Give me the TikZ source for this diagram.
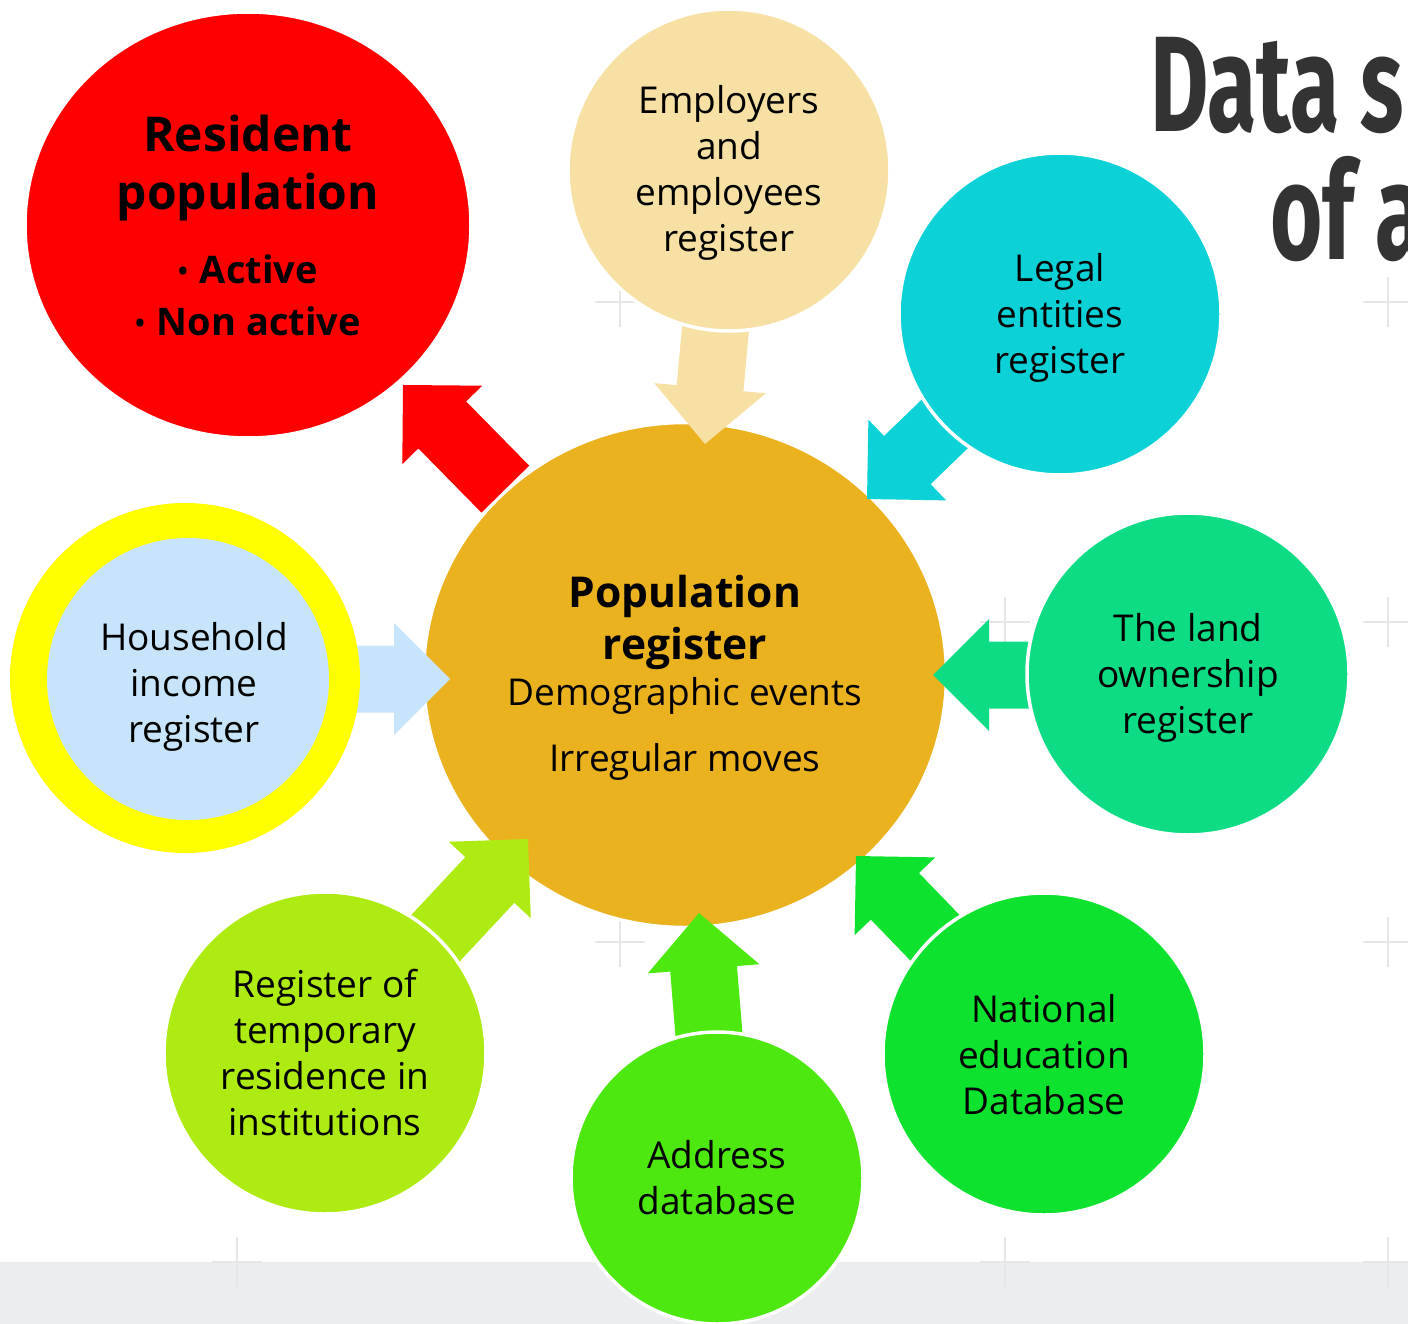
\documentclass[tikz,border=0pt]{standalone}
\usepackage{fontspec}
\usepackage{graphicx}
\setmainfont{Open Sans}
\newfontfamily\titlefont{Fira Sans}
\usetikzlibrary{shapes.geometric}
\definecolor{popc}{HTML}{EBB220}
\definecolor{empc}{HTML}{F7E0A3}
\definecolor{legc}{HTML}{0CD2D8}
\definecolor{landc}{HTML}{0EDC85}
\definecolor{natc}{HTML}{0DE22F}
\definecolor{addc}{HTML}{4CE80F}
\definecolor{tempc}{HTML}{AEEB12}
\definecolor{hhc}{HTML}{C8E4FA}
\definecolor{yelc}{HTML}{FFFF00}
\definecolor{redc}{HTML}{FF0000}
\definecolor{stripc}{HTML}{ECEDEF}
\definecolor{crossc}{HTML}{E6E6E6}
\definecolor{titlec}{HTML}{333333}
\newcommand\blockarrow[4]{%
  \fill[#4, shift={(#1)}, rotate=#2] (0,0) -- (-56,-56) -- (-56,-33.5) -- (-#3,-33.5)
    -- (-#3,33.5) -- (-56,33.5) -- (-56,56) -- cycle;}
\newcommand\popbold{\bfseries\fontsize{42.5}{46}\selectfont}
\newcommand\smallbullet{{\fontsize{26}{26}\selectfont\raisebox{3pt}{•}}\hspace*{12pt}}
\tikzset{
  src/.style={circle, inner sep=0pt, minimum size=322, draw=white, line width=3.5},
  txt/.style={inner sep=0pt, align=center, text=black, font=\fontsize{37}{46}\selectfont},
  crossline/.style={draw=crossc, line width=1.8},
  titletext/.style={anchor=base west, inner sep=0pt, text=titlec,
    font=\titlefont\bfseries\fontsize{136}{136}\selectfont}
}
\begin{document}
\begin{tikzpicture}[x=1pt,y=-1pt]
\useasboundingbox (0,0) rectangle (1408,1324);
\clip (0,0) rectangle (1408,1324);
\fill[white] (0,0) rectangle (1408,1324);
\fill[stripc] (0,1262) rectangle (1408,1324);
\foreach \x in {237,620,1005,1388}
  \foreach \y in {302,622,942,1262}
    \draw[crossline] (\x-25,\y) -- (\x+25,\y) (\x,\y-25) -- (\x,\y+25);

% title
\node[titletext] (title1) at (1150,132) {\scalebox{0.66}[1]{Data s}};
\node[titletext] (title2) at (1270,260) {\scalebox{0.66}[1]{of a}};

% central node
\node[ellipse, fill=popc, draw=white, line width=3.5, minimum width=523, minimum height=505,
  inner sep=0pt] (pop) at (685,675) {};
\node[txt] (popt) at ([yshift=-3pt]pop.center)
  {\popbold Population\\[6pt]\popbold register\\Demographic events\\[20pt]Irregular moves};

% block arrows
\blockarrow{403,385}{134.5}{146}{redc}
\blockarrow{705,444}{264.8}{125}{empc}
\blockarrow{867,499}{224}{120}{legc}
\blockarrow{450,679}{0}{100}{hhc}
\blockarrow{933,675}{180}{107}{landc}
\blockarrow{856,856}{134}{125}{natc}
\blockarrow{699,913}{94.7}{130}{addc}
\blockarrow{528,839}{47}{145}{tempc}

% outer nodes
\node[ellipse, fill=redc, draw=white, line width=3.5, minimum width=446, minimum height=426,
  inner sep=0pt, align=center, font=\bfseries\fontsize{38}{52}\selectfont] (res) at (248,225)
  {\fontsize{48}{52}\selectfont Resident\\[6pt]\fontsize{48}{52}\selectfont population\\[22pt]\smallbullet Active\\\smallbullet Non active};
\node[src, fill=empc] (emp) at (729,170) {};
\node[txt] (empt) at ([yshift=-3pt]emp.center) {Employers\\and\\employees\\register};
\node[src, fill=legc] (leg) at (1060,314) {};
\node[txt] (legt) at ([yshift=-4pt]leg.center) {Legal\\entities\\register};
\node[circle, fill=yelc, minimum size=350, inner sep=0pt] (ring) at (185,678) {};
\node[circle, fill=hhc, minimum size=282, inner sep=0pt] (hh) at (188,679) {};
\node[txt] (hht) at ([xshift=6pt, yshift=-8pt]hh.center) {Household\\income\\register};
\node[src, fill=landc] (land) at (1188,674) {};
\node[txt] (landt) at ([yshift=-3.5pt]land.center) {The land\\ownership\\register};
\node[src, fill=natc] (nat) at (1044,1054) {};
\node[txt] (natt) at ([yshift=-0.5pt]nat.center) {National\\education\\Database};
\node[src, fill=addc, minimum size=292] (addr) at (717,1178) {};
\node[txt] (addrt) at (addr.center) {Address\\database};
\node[src, fill=tempc] (temp) at (325,1053) {};
\node[txt] (tempt) at (temp.center) {Register of\\temporary\\residence in\\institutions};
\end{tikzpicture}
\end{document}
